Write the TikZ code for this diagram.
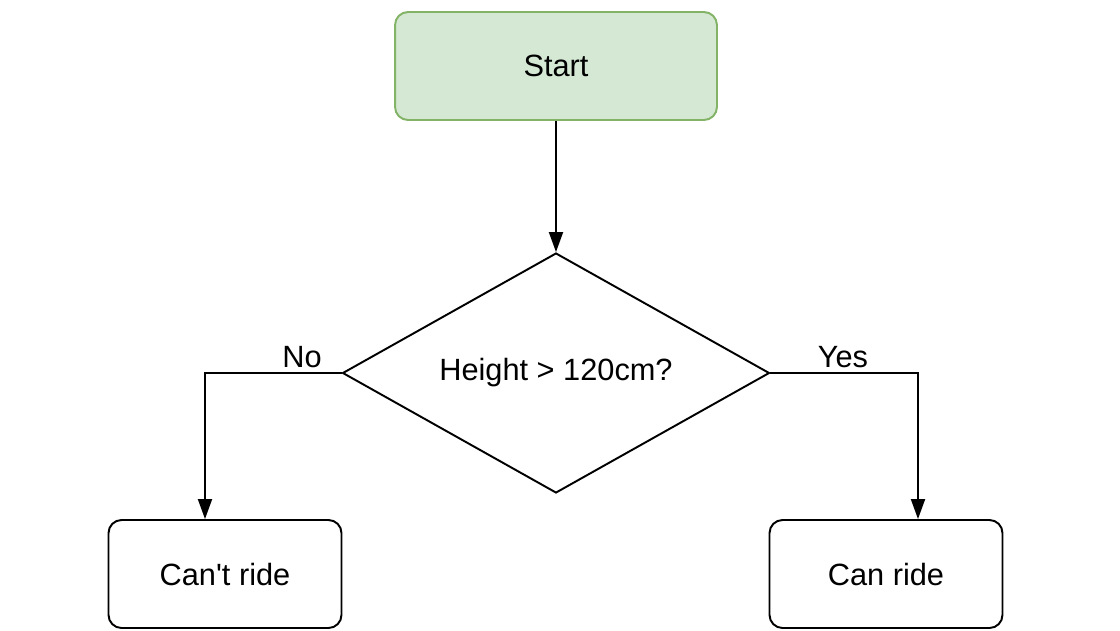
\documentclass[tikz,border=0pt]{standalone}
\usepackage{fontspec}
\setmainfont{Liberation Sans}
\usepackage{tikz}
\usetikzlibrary{shapes.geometric}
\usetikzlibrary{arrows.meta}
\definecolor{startfill}{HTML}{D5E8D4}
\definecolor{startline}{HTML}{82B366}
\tikzset{box/.style={rectangle, draw, line width=1.1pt, rounded corners=.26cm, minimum width=4.66cm, minimum height=2.16cm, font=\fontsize{17.5}{21}\selectfont}}
\tikzset{decision/.style={diamond, draw, line width=1.1pt, aspect=1.78, minimum width=8.54cm, minimum height=4.8cm, inner sep=0pt, font=\fontsize{17.5}{21}\selectfont}}
\tikzset{flow/.style={line width=1.1pt, -{Stealth[length=.4cm, width=.28cm, inset=0pt]}}}
\tikzset{lab/.style={font=\fontsize{17.5}{21}\selectfont, anchor=south, inner sep=2pt}}

\begin{document}
\begin{tikzpicture}[x=0.02cm,y=-0.02cm]
  \useasboundingbox (0,0) rectangle (1120,630);
  \node[box, fill=startfill, draw=startline, minimum width=6.44cm] (start) at (556,66) {Start};
  \node[decision] (height) at (556,373) {Height > 120cm?};
  \foreach \x/\name/\lab in {
    225/{Can\textquotesingle t ride}/cant,
    886/{Can ride}/can%
  } {
    \node[box] (\lab) at (\x, 574) {\name};
  }
  \coordinate (noturn) at (205,373);
  \coordinate (yesturn) at (918,373);
  \draw[flow] (start) -- (height);
  \draw[flow] (height.west) -- (noturn) -- (noturn |- cant.north);
  \draw[flow] (height.east) -- (yesturn) -- (yesturn |- can.north);
  \node[lab] (nolab) at (302,372) {No};
  \node[lab] (yeslab) at (843,372) {Yes};
\end{tikzpicture}
\end{document}
